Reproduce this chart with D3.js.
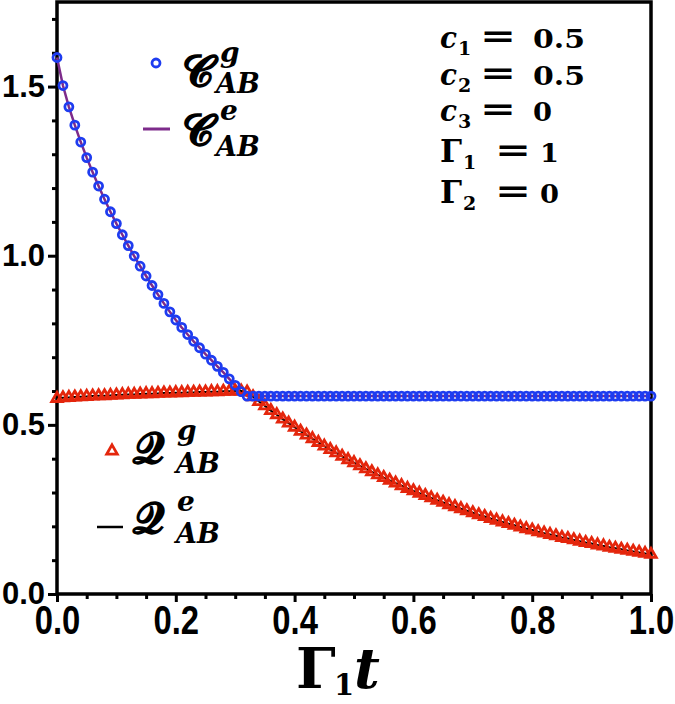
<!DOCTYPE html>
<html><head><meta charset="utf-8">
<script src="https://cdn.jsdelivr.net/npm/d3@7"></script>
<style>body{margin:0;background:#fff}svg{display:block}</style>
</head><body><svg id="c" width="675" height="704"></svg>
<script>
// Γ1 t sampled every 0.01 from 0 to 1
const cGround = [1.586,1.503,1.440,1.386,1.336,1.290,1.247,1.206,1.167,1.130,
1.095,1.062,1.030,0.999,0.969,0.940,0.912,0.885,0.859,0.834,
0.810,0.788,0.767,0.747,0.728,0.709,0.691,0.673,0.655,0.636,
0.617,0.598,0.585,0.585,0.585,0.585,0.585,0.585,0.585,0.585,
0.585,0.585,0.585,0.585,0.585,0.585,0.585,0.585,0.585,0.585,
0.585,0.585,0.585,0.585,0.585,0.585,0.585,0.585,0.585,0.585,
0.585,0.585,0.585,0.585,0.585,0.585,0.585,0.585,0.585,0.585,
0.585,0.585,0.585,0.585,0.585,0.585,0.585,0.585,0.585,0.585,
0.585,0.585,0.585,0.585,0.585,0.585,0.585,0.585,0.585,0.585,
0.585,0.585,0.585,0.585,0.585,0.585,0.585,0.585,0.585,0.585,0.585];
const qGround = [0.578,0.580,0.581,0.582,0.583,0.584,0.585,0.586,0.586,0.587,
0.588,0.589,0.590,0.590,0.591,0.592,0.592,0.593,0.594,0.594,
0.595,0.595,0.596,0.596,0.597,0.597,0.598,0.598,0.599,0.599,
0.600,0.600,0.597,0.583,0.569,0.556,0.542,0.530,0.517,0.505,
0.493,0.481,0.470,0.459,0.448,0.437,0.427,0.417,0.407,0.397,
0.388,0.379,0.370,0.361,0.352,0.344,0.336,0.328,0.320,0.312,
0.305,0.298,0.291,0.284,0.277,0.271,0.264,0.258,0.252,0.246,
0.240,0.234,0.229,0.223,0.218,0.213,0.208,0.203,0.198,0.193,
0.189,0.184,0.180,0.176,0.172,0.167,0.164,0.160,0.156,0.152,
0.149,0.145,0.142,0.138,0.135,0.132,0.129,0.126,0.123,0.120,0.117];
const cExcited = cGround.slice();
const qExcited = qGround.slice();
const tValues = cGround.map((_, i) => i / 100);
const xTickLabels = [0, 0.2, 0.4, 0.6, 0.8, 1.0];
const yTickLabels = [0, 0.5, 1.0, 1.5];

const svg = d3.select("#c");
const x = d3.scaleLinear().domain([0, 1]).range([57, 651]);
const y = d3.scaleLinear().domain([0, 1.75]).range([594, 2]);

const BLUE = "#1e3cf0", RED = "#e4260c", PURPLE = "#7d2b8b";

const xMinor = d3.range(0, 21).map(i => i * 0.05).filter(v => Math.round(v * 100) % 20 !== 0);
const yMinor = d3.range(0, 18).map(i => i * 0.1).filter(v => Math.round(v * 10) % 5 !== 0);

const gxm = svg.append("g").attr("transform", "translate(0,594)")
  .call(d3.axisBottom(x).tickValues(xMinor).tickSize(5).tickFormat(""));
const gym = svg.append("g").attr("transform", "translate(57,0)")
  .call(d3.axisLeft(y).tickValues(yMinor).tickSize(5).tickFormat(""));
const gx = svg.append("g").attr("transform", "translate(0,594)")
  .call(d3.axisBottom(x).tickValues(xTickLabels).tickSize(8).tickPadding(3).tickFormat(d3.format(".1f")));
const gy = svg.append("g").attr("transform", "translate(57,0)")
  .call(d3.axisLeft(y).tickValues(yTickLabels).tickSize(9).tickPadding(3).tickFormat(d3.format(".1f")));
[gxm, gym, gx, gy].forEach(g => {
  g.select(".domain").remove();
  g.selectAll(".tick line").attr("stroke", "#000").attr("stroke-width", 3);
});
gx.selectAll(".tick text").attr("font-family", "Liberation Sans, Arial, sans-serif")
  .attr("font-weight", "bold").attr("font-size", 41).attr("fill", "#000")
  .attr("transform", "scale(0.8,1)");
gy.selectAll(".tick text").attr("font-family", "Liberation Sans, Arial, sans-serif")
  .attr("font-weight", "bold").attr("font-size", 31).attr("fill", "#000");

svg.append("rect").attr("x", x(0)).attr("y", y(1.75)).attr("width", x(1) - x(0))
  .attr("height", y(0) - y(1.75)).attr("fill", "none").attr("stroke", "#000").attr("stroke-width", 3.5);

const plot = svg.append("g");
const lineC = d3.line().x((d, i) => x(tValues[i])).y(d => y(d));
plot.append("path").datum(cExcited).attr("d", lineC).attr("fill", "none")
  .attr("stroke", PURPLE).attr("stroke-width", 2.5);
plot.append("path").datum(qExcited).attr("d", lineC).attr("fill", "none")
  .attr("stroke", "#000").attr("stroke-width", 2);

const TRI = 48, SW = 2.8, R = 4;
plot.selectAll("path.tri").data(qGround).join("path").attr("class", "tri")
  .attr("d", d3.symbol(d3.symbolTriangle, TRI))
  .attr("transform", (d, i) => `translate(${x(tValues[i])},${y(d)})`)
  .attr("fill", "none").attr("stroke", RED).attr("stroke-width", SW);
plot.selectAll("circle.cg").data(cGround).join("circle").attr("class", "cg")
  .attr("cx", (d, i) => x(tValues[i])).attr("cy", d => y(d)).attr("r", R)
  .attr("fill", "none").attr("stroke", BLUE).attr("stroke-width", SW);

const SERIF = "DejaVu Serif, Liberation Serif, serif";
function tx(s, xx, yy, size, opts = {}) {
  return svg.append("text").attr("x", xx).attr("y", yy).attr("font-family", opts.family || SERIF)
    .attr("font-size", size).attr("font-weight", opts.weight || "bold")
    .attr("font-style", opts.style || "normal").attr("fill", "#000").text(s);
}
// legend
svg.append("circle").attr("cx", 156).attr("cy", 63).attr("r", R).attr("fill", "none")
  .attr("stroke", BLUE).attr("stroke-width", SW);
tx("𝓒", 182, 86, 44);
tx("g", 220, 62, 28, {style: "italic"});
tx("AB", 216, 93, 27, {style: "italic"});
svg.append("line").attr("x1", 143).attr("x2", 170).attr("y1", 129).attr("y2", 129)
  .attr("stroke", PURPLE).attr("stroke-width", 3);
tx("𝓒", 182, 145, 44);
tx("e", 220, 120, 28, {style: "italic"});
tx("AB", 216, 156, 27, {style: "italic"});

svg.append("path").attr("d", d3.symbol(d3.symbolTriangle, TRI))
  .attr("transform", "translate(112,451)").attr("fill", "none").attr("stroke", RED).attr("stroke-width", SW);
tx("𝓠", 133, 463, 44);
tx("g", 177, 440, 28, {style: "italic"});
tx("AB", 176, 473, 27, {style: "italic"});
svg.append("line").attr("x1", 97).attr("x2", 123).attr("y1", 527).attr("y2", 527)
  .attr("stroke", "#000").attr("stroke-width", 2.5);
tx("𝓠", 133, 533, 44);
tx("e", 177, 511, 28, {style: "italic"});
tx("AB", 176, 543, 27, {style: "italic"});

// parameters
const paramSym = ["c", "c", "c", "Γ", "Γ"];
const paramSub = ["1", "2", "3", "1", "2"];
const paramVal = ["0.5", "0.5", "0", "1", "0"];
const paramBase = [48, 85, 121, 162, 203];
paramSym.forEach((s, i) => {
  const greek = s === "Γ";
  tx(s, 440, paramBase[i], greek ? 32 : 30, {style: greek ? "normal" : "italic"})
    .attr("textLength", greek ? 22 : 17).attr("lengthAdjust", "spacingAndGlyphs");
  tx(paramSub[i], greek ? 463 : 458, paramBase[i] + 7, 19);
  tx("=", greek ? 495 : 480, paramBase[i] - 1, 32)
    .attr("textLength", 36).attr("lengthAdjust", "spacingAndGlyphs");
  const v = tx(paramVal[i], greek ? 540 : 533, paramBase[i], 26);
  v.attr("textLength", paramVal[i].length === 3 ? 52 : 19).attr("lengthAdjust", "spacingAndGlyphs");
});

// x axis title
tx("Γ", 296, 688, 56);
tx("1", 334, 695, 29);
tx("t", 354, 688, 56, {style: "italic"});
</script></body></html>
